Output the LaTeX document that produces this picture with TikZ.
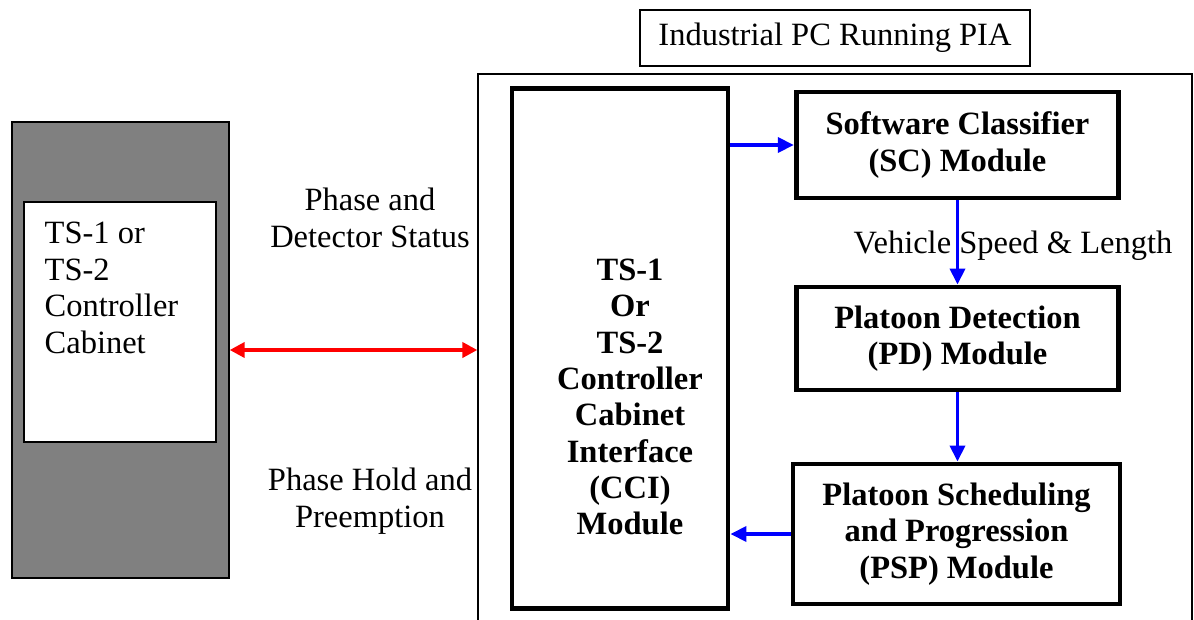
\documentclass[tikz,border=0pt]{standalone}
\usepackage{fontspec}
\setmainfont{Liberation Serif}
\usepackage{tikz}
\usetikzlibrary{arrows.meta, positioning}

\begin{document}
\begin{tikzpicture}[
    x=0.02cm, y=-0.02cm,
    every node/.style={font=\fontsize{18.5pt}{21pt}\selectfont},
    modbox/.style={draw=black, line width=2.8pt, minimum width=6.45cm, inner sep=0pt},
    modtext/.style={font=\fontsize{18.5pt}{20.7pt}\selectfont\bfseries, align=center},
    thinbox/.style={draw=black, line width=0.8pt, inner sep=0pt},
    plain/.style={align=center, inner sep=0pt},
    flow/.style={draw=blue, line width=2.1pt, -{Triangle[length=0.32cm, width=0.3cm]}},
    link/.style={draw=red, line width=2.3pt, {Triangle[length=0.3cm, width=0.3cm]}-{Triangle[length=0.3cm, width=0.3cm]}}
]
\useasboundingbox (0,0) rectangle (1194,619);

% Controller cabinet
\node[thinbox, fill=gray, minimum width=4.34cm, minimum height=9.12cm] (cab) at (120.5,350) {};
\node[thinbox, fill=white, minimum width=3.84cm, minimum height=4.8cm] (inner) at (120,322) {};
\node[align=left, inner sep=0pt, below right=0.4cm and 0.42cm of inner.north west] (cabtext)
    {TS-1 or\\TS-2\\Controller\\Cabinet};

% Industrial PC
\node[thinbox, minimum width=14.28cm, minimum height=11.32cm] (pc) at (835,357) {};
\node[thinbox, fill=white, minimum width=7.8cm, minimum height=1.12cm] (title) at (835,38) {Industrial PC Running PIA};

% Modules
\node[modbox, minimum width=4.32cm, minimum height=10.42cm] (cci) at (620,348.5) {};
\node[modtext] (ccitext) at (630,397)
    {TS-1\\Or\\ TS-2\\Controller\\Cabinet\\Interface\\(CCI)\\Module};
\node[modbox, minimum height=2.12cm, modtext] (sc) at (957.5,145) {Software Classifier\\(SC) Module};
\node[modbox, minimum height=2.06cm, modtext] (pd) at (957.5,338.5) {Platoon Detection\\(PD) Module};
\node[modbox, minimum width=6.54cm, minimum height=2.8cm, modtext] (psp) at (956.5,534)
    {Platoon Scheduling\\and Progression\\(PSP) Module};

% Labels
\node[plain] (status) at (370,218) {Phase and\\Detector Status};
\node[plain] (hold) at (370,501) {Phase Hold and\\Preemption};
\node[plain] (speed) at (1013,246) {Vehicle Speed \& Length};

% Connectors
\draw[link] (cab.east) -- (cab.east -| pc.west);
\draw[flow] (cci.east |- sc.west) -- (sc.west);
\draw[flow] (sc.south) -- (pd.north);
\draw[flow] (pd.south) -- (pd.south |- psp.north);
\draw[flow] (psp.west) -- (psp.west -| cci.east);

\end{tikzpicture}
\end{document}
